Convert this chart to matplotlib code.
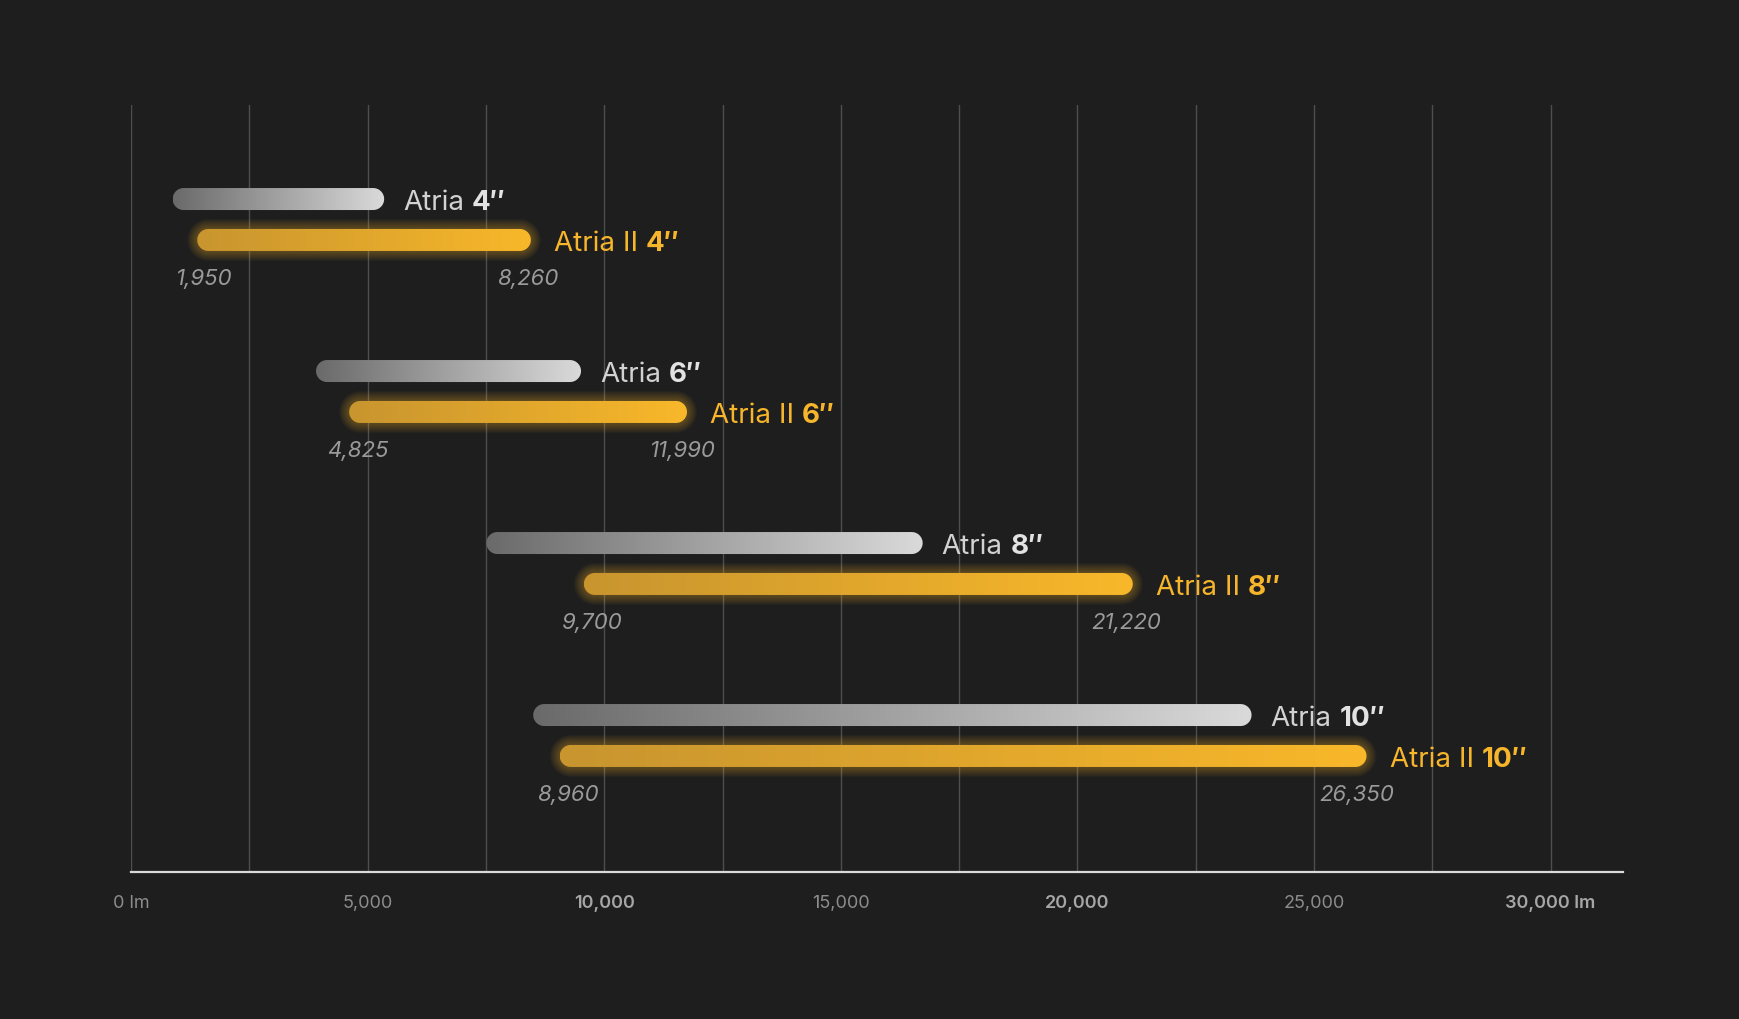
import numpy as np
import matplotlib
matplotlib.use("Agg")
import matplotlib.pyplot as plt
from matplotlib.path import Path
from matplotlib.patches import PathPatch
from matplotlib.transforms import IdentityTransform
from matplotlib.colors import LinearSegmentedColormap

# ---------------- data ----------------
sizes = ["4″", "6″", "8″", "10″"]
atria_start = [880, 3910, 7510, 8500]
atria_end = [5350, 9510, 16730, 23680]
atria2_start = [1400, 4610, 9570, 9060]
atria2_end = [8450, 11750, 21170, 26110]
atria2_low_labels = ["1,950", "4,825", "9,700", "8,960"]
atria2_high_labels = ["8,260", "11,990", "21,220", "26,350"]
tick_values = [0, 5000, 10000, 15000, 20000, 25000, 30000]
tick_labels = ["0 lm", "5,000", "10,000", "15,000", "20,000", "25,000", "30,000 lm"]
tick_bold = [False, False, True, False, True, False, True]
grid_values = list(range(0, 30001, 2500))

# ---------------- style ----------------
BG = "#1e1e1e"
GOLD = "#f6b52b"
FONT = ["Inter", "DejaVu Sans"]
plt.rcParams["font.family"] = FONT

FW, FH = 1740, 1020
fig = plt.figure(figsize=(FW / 100, FH / 100), dpi=100, facecolor=BG)
left_px, right_px, top_px, bottom_px = 131, 1623, 106, 873
ax = fig.add_axes([left_px / FW, 1 - bottom_px / FH,
                   (right_px - left_px) / FW, (bottom_px - top_px) / FH])
ax.set_facecolor(BG)
XMAX = 31530
YLIM = (3.7936, -0.6657)
ax.set_xlim(0, XMAX)
ax.set_ylim(*YLIM)
ax.axis("off")

for g in grid_values:
    ax.axvline(g, color="#4e4e4e", lw=1.0, zorder=0)
ax.axhline(YLIM[0], color="#d9d9d9", lw=1.6, zorder=1, clip_on=False)

gray_cmap = LinearSegmentedColormap.from_list("g", ["#6a6a6a", "#dadada"])
gold_cmap = LinearSegmentedColormap.from_list("y", ["#c8952f", "#f9b82a"])

BAR_H = 22
OFF = 0.119
px_per_y = (bottom_px - top_px) / (YLIM[0] - YLIM[1])


def stadium(x0, x1, yc, h, n=40):
    r = h / 2
    t1 = np.linspace(-np.pi / 2, np.pi / 2, n)
    t2 = np.linspace(np.pi / 2, 3 * np.pi / 2, n)
    xs = np.concatenate([x1 - r + r * np.cos(t1), x0 + r + r * np.cos(t2)])
    ys = np.concatenate([yc + r * np.sin(t1), yc + r * np.sin(t2)])
    verts = np.column_stack([xs, ys])
    verts = np.vstack([verts, verts[:1]])
    codes = [Path.MOVETO] + [Path.LINETO] * (len(verts) - 2) + [Path.CLOSEPOLY]
    return Path(verts, codes)


def draw_bar(start, end, y, cmap, glow=False):
    x0, yc = ax.transData.transform((start, y))
    x1, _ = ax.transData.transform((end, y))
    if glow:
        for k in range(1, 11):
            p = PathPatch(stadium(x0 - k, x1 + k, yc, BAR_H + 2 * k),
                          transform=IdentityTransform(), fc=GOLD, ec="none",
                          alpha=0.035, zorder=2)
            ax.add_artist(p)
    clip = PathPatch(stadium(x0, x1, yc, BAR_H), transform=IdentityTransform(),
                     fc="none", ec="none")
    hh = (BAR_H / 2 + 2) / px_per_y
    grad = np.linspace(0, 1, 256).reshape(1, -1)
    im = ax.imshow(grad, extent=[start, end, y + hh, y - hh], aspect="auto",
                   cmap=cmap, zorder=3, interpolation="bilinear")
    im.set_clip_path(clip)
    return x0, x1, yc


fig.canvas.draw()
renderer = fig.canvas.get_renderer()


def two_part(xpx, ypx, a, b, ca, cb, size):
    t1 = fig.text(xpx, ypx, a, transform=IdentityTransform(), color=ca,
                  fontsize=size, va="center_baseline", ha="left")
    bb = t1.get_window_extent(renderer)
    gap = size * 0.28 * 100 / 72
    fig.text(bb.x1 + gap, ypx, b, transform=IdentityTransform(), color=cb,
             fontsize=size, fontweight="bold", va="center_baseline", ha="left")


LABEL_SIZE = 20
VAL_SIZE = 16
for i in range(len(sizes)):
    yg = i - OFF
    yy = i + OFF
    gx0, gx1, gyc = draw_bar(atria_start[i], atria_end[i], yg, gray_cmap)
    ox0, ox1, oyc = draw_bar(atria2_start[i], atria2_end[i], yy, gold_cmap, glow=True)
    two_part(gx1 + 19, gyc, "Atria", sizes[i], "#d2d2d2", "#e2e2e2", LABEL_SIZE)
    two_part(ox1 + 23, oyc, "Atria II", sizes[i], GOLD, GOLD, LABEL_SIZE)
    fig.text(ox0 - 22, oyc - 36, atria2_low_labels[i], transform=IdentityTransform(),
             color="#9a9a9a", fontsize=VAL_SIZE, style="italic",
             ha="left", va="center_baseline")
    fig.text(ox1 + 28, oyc - 36, atria2_high_labels[i], transform=IdentityTransform(),
             color="#9a9a9a", fontsize=VAL_SIZE, style="italic",
             ha="right", va="center_baseline")

for v, lbl, b in zip(tick_values, tick_labels, tick_bold):
    xp, _ = ax.transData.transform((v, 0))
    fig.text(xp, FH - 902, lbl, transform=IdentityTransform(),
             color="#a6a6a6" if b else "#8c8c8c", fontsize=13,
             fontweight="semibold" if b else "normal",
             ha="center", va="center_baseline")

ax.set_xlim(0, XMAX)
ax.set_ylim(*YLIM)
fig.savefig("out.png", dpi=100, facecolor=BG)
